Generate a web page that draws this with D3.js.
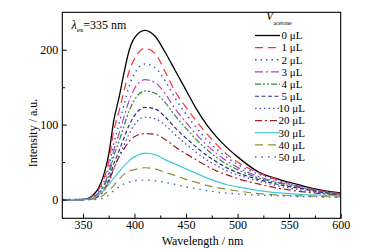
<!DOCTYPE html>
<html>
<head>
<meta charset="utf-8">
<script src="https://cdn.jsdelivr.net/npm/d3@7"></script>
<style>
  html, body { margin: 0; padding: 0; background: #fff; }
  svg { display: block; }
  svg text { font-family: 'Liberation Serif', 'Times New Roman', Times, serif; }
</style>
</head>
<body>
<div id="chart"></div>
<script>
// Fluorescence spectra vs added acetone volume

const wavelengths = [330, 350, 355, 360, 365, 370, 375, 380, 385, 390, 395, 400, 410, 420, 430, 440, 450, 460, 470, 480, 490, 500, 520, 540, 560, 580, 600];

const volumes = ['0 μL', '1 μL', '2 μL', '3 μL', '4 μL', '5 μL', '10 μL', '20 μL', '30 μL', '40 μL', '50 μL'];

const int0 =  [0, 0.3, 1.5, 6, 15, 32, 60, 106, 136, 170, 200, 216, 226, 218, 196, 171, 146, 121, 100, 83, 69, 57, 37, 27, 19.5, 13, 9];
const int1 =  [0, 0, 1, 5, 13, 27, 50, 92, 118, 146, 172, 188, 202, 195, 170, 143, 123, 105, 88, 73, 60, 50, 36, 26, 18, 12, 8];
const int2 =  [0, 0, 1, 4, 11, 23, 43, 76, 101, 127, 152, 168, 181, 176, 158, 134, 114, 96, 80, 67, 56, 47, 34, 25, 18, 12, 8];
const int3 =  [0, 0, 1, 3, 9, 19, 36, 66, 88, 111, 133, 148, 160, 156, 141, 120, 103, 87, 73, 61, 51, 43, 31, 23, 17, 11, 7];
const int4 =  [0, 0, 1, 3, 8, 17, 32, 58, 78, 99, 119, 133, 145, 142, 129, 111, 95, 80, 67, 56, 47, 40, 29, 22, 16, 11, 7];
const int5 =  [0, 0, 1, 2, 6, 13, 26, 48, 65, 83, 100, 112, 123, 121, 110, 95, 82, 70, 59, 50, 42, 36, 27, 20, 15, 10, 6];
const int10 = [0, 0, 0.5, 2, 5, 11, 22, 41, 57, 73, 88, 100, 110, 108, 99, 86, 74, 63, 53, 45, 38, 33, 25, 18, 13, 9, 6];
const int20 = [0, 0, 0.5, 1.5, 4, 12, 24, 42, 57, 68, 78, 84, 88, 87, 80, 70, 61, 53, 45, 38, 33, 28, 21, 15, 11, 8, 5];
const int30 = [0, 0, 0.5, 2, 6, 12, 20, 29, 37, 45, 52, 57, 62, 60, 53, 47, 41, 35, 29, 24, 19.5, 17, 12, 9, 7, 6, 5];
const int40 = [0, 0, 0, 0.5, 2, 6, 12, 19, 27, 34, 38, 40, 42.5, 41, 36, 32, 27, 23, 19, 16, 13.5, 11.5, 8, 6, 5, 4, 3.5];
const int50 = [0, 0, 0, 0, 0.5, 2, 6, 12, 17, 21, 23.5, 25, 26, 25, 23, 20, 17, 14.5, 12, 10, 8.5, 7.5, 6, 5, 4, 3.5, 3];

const xTicks = [350, 400, 450, 500, 550, 600];
const xMinor = [375, 425, 475, 525, 575];
const yTicks = [0, 100, 200];
const yMinor = [50, 150];

const seriesValues = [int0, int1, int2, int3, int4, int5, int10, int20, int30, int40, int50];
const styles = [
  { color: '#000000', dash: null, w: 1.3 },
  { color: '#ff3030', dash: '8,5', w: 1.2 },
  { color: '#3050d0', dash: '1.5,4', w: 1.4 },
  { color: '#b040c8', dash: '8,3,2,3', w: 1.2 },
  { color: '#2e8b3a', dash: '6,2,2,2,2,2', w: 1.2 },
  { color: '#283080', dash: '4,2.5', w: 1.2 },
  { color: '#5048c0', dash: '1.5,3', w: 1.3 },
  { color: '#a02020', dash: '7,3,2,3', w: 1.2 },
  { color: '#40c8dc', dash: null, w: 1.2 },
  { color: '#8f8f30', dash: '8,5', w: 1.2 },
  { color: '#3a68c8', dash: '1.5,5', w: 1.4 }
];

const FONT = "'Liberation Serif', 'Times New Roman', Times, serif";
const W = 365, H = 249;
const L = 62.3, R = 340.7, T = 12.3, B = 218.3;

const svg = d3.select('#chart').append('svg')
  .attr('width', W).attr('height', H)
  .attr('font-family', FONT);

const x = d3.scaleLinear().domain([330, 600]).range([L, R]);
const y = d3.scaleLinear().domain([-25, 250]).range([B, T]);

svg.append('clipPath').attr('id', 'clip')
  .append('rect').attr('x', L).attr('y', T).attr('width', R - L).attr('height', B - T);

// Curves
const line = d3.line()
  .x(d => x(d[0]))
  .y(d => y(d[1]))
  .curve(d3.curveMonotoneX);

const g = svg.append('g').attr('clip-path', 'url(#clip)');
seriesValues.forEach((vals, i) => {
  const s = styles[i];
  g.append('path')
    .datum(wavelengths.map((w, k) => [w, vals[k]]))
    .attr('d', line)
    .attr('fill', 'none')
    .attr('stroke', s.color)
    .attr('stroke-width', s.w)
    .attr('stroke-dasharray', s.dash);
});

// Axes (ticks pointing in)
const axisX = svg.append('g').attr('transform', `translate(0,${B})`)
  .call(d3.axisBottom(x).tickValues(xTicks).tickSizeInner(-4.5).tickSizeOuter(0).tickPadding(2.5));
axisX.select('.domain').remove();
svg.append('g').attr('transform', `translate(0,${B})`)
  .call(d3.axisBottom(x).tickValues(xMinor).tickSizeInner(-2.8).tickSizeOuter(0).tickFormat(''))
  .select('.domain').remove();

const axisY = svg.append('g').attr('transform', `translate(${L},0)`)
  .call(d3.axisLeft(y).tickValues(yTicks).tickSizeInner(-4.5).tickSizeOuter(0).tickPadding(4));
axisY.select('.domain').remove();
svg.append('g').attr('transform', `translate(${L},0)`)
  .call(d3.axisLeft(y).tickValues(yMinor).tickSizeInner(-2.8).tickSizeOuter(0).tickFormat(''))
  .select('.domain').remove();

svg.selectAll('g').attr('font-family', FONT);
svg.selectAll('.tick line').attr('stroke', '#000').attr('stroke-width', 1);
svg.selectAll('.tick text')
  .attr('font-size', '12px')
  .attr('fill', '#000');

// Frame
svg.append('rect')
  .attr('x', L).attr('y', T).attr('width', R - L).attr('height', B - T)
  .attr('fill', 'none').attr('stroke', '#000').attr('stroke-width', 1.1);

// Axis titles
svg.append('text')
  .attr('x', (L + R) / 2 + 1).attr('y', 244.5)
  .attr('text-anchor', 'middle').attr('font-size', '12px')
  .text('Wavelength / nm');

svg.append('text')
  .attr('transform', 'translate(36.5,133) rotate(-90)')
  .attr('text-anchor', 'middle').attr('font-size', '12px')
  .text('Intensity / a.u.');

// Excitation label
const ex = svg.append('text').attr('x', 71.5).attr('y', 28.5).attr('font-size', '12px');
ex.append('tspan').attr('font-style', 'italic').text('λ');
ex.append('tspan').attr('font-size', '7px').attr('dy', 3).text('ex');
ex.append('tspan').attr('dy', -3).text('=335 nm');

// Legend
const lg = svg.append('g');
const vt = lg.append('text').attr('x', 266).attr('y', 20).attr('font-size', '12px');
vt.append('tspan').attr('font-style', 'italic').text('V');
vt.append('tspan').attr('font-size', '6px').attr('dy', 4.5).text('acetone');

volumes.forEach((label, i) => {
  const s = styles[i];
  const yy = 35.5 + i * 12.15;
  lg.append('line')
    .attr('x1', 255).attr('x2', 280).attr('y1', yy).attr('y2', yy)
    .attr('stroke', s.color).attr('stroke-width', s.w)
    .attr('stroke-dasharray', s.dash);
  lg.append('text')
    .attr('x', label.length > 4 ? 278.5 : 281.5).attr('y', yy + 3.8)
    .attr('font-size', '11px')
    .text(label);
});
</script>
</body>
</html>
